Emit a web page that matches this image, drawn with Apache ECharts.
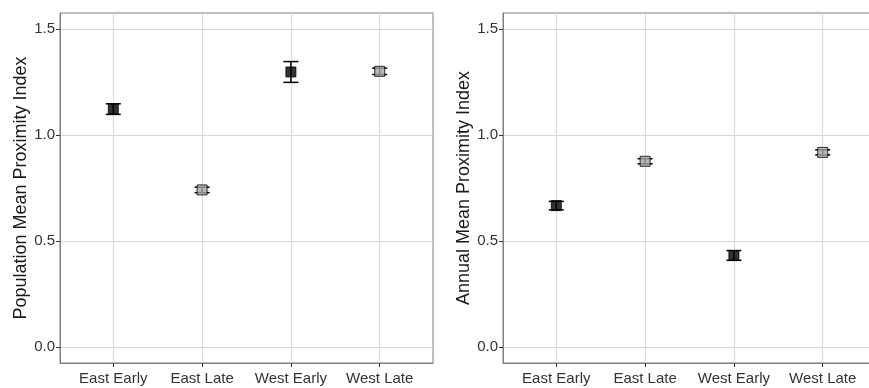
<!DOCTYPE html>
<html>
<head>
<meta charset="utf-8">
<title>Mean Proximity Index</title>
<script src="https://cdn.jsdelivr.net/npm/echarts@6/dist/echarts.min.js"></script>
<style>
  html, body { margin: 0; padding: 0; background: #ffffff; }
  #chart { width: 869px; height: 388px; }
</style>
</head>
<body>
<div id="chart"></div>
<script>
// Groups shown on both panels
const groups = ['East Early', 'East Late', 'West Early', 'West Late'];

// Population mean proximity index and its standard error
const popMean = [1.122, 0.741, 1.297, 1.300];
const popErr  = [0.025, 0.013, 0.049, 0.015];

// Annual mean proximity index and its standard error
const annMean = [0.667, 0.876, 0.432, 0.918];
const annErr  = [0.020, 0.012, 0.023, 0.012];

// Y tick values
const yTicks = [0, 0.5, 1.0, 1.5];

const EARLY_FILL = '#000000';
const LATE_FILL = '#a6a6a6';
const FONT = '"Liberation Sans", Arial, sans-serif';

const chart = echarts.init(document.getElementById('chart'), null, { renderer: 'canvas' });

const xPositions = groups.map((g, i) => i + 1);

function xAxisFor(gridIndex) {
  return {
    type: 'value', gridIndex: gridIndex,
    min: 0.4, max: 4.6,
    axisLine: { show: true, onZero: false, lineStyle: { color: '#7f7f7f', width: 1 } },
    axisTick: { show: true, length: 4, customValues: xPositions, lineStyle: { color: '#333333', width: 1 } },
    axisLabel: {
      customValues: xPositions,
      formatter: v => groups[Math.round(v) - 1] || '',
      color: '#333333', fontFamily: FONT, fontSize: 15, margin: 8
    },
    splitLine: { show: true, lineStyle: { color: '#d9d9d9', width: 1 } }
  };
}

function yAxisFor(gridIndex, title) {
  return {
    type: 'value', gridIndex: gridIndex,
    min: -0.075, max: 1.575,
    name: title, nameLocation: 'middle', nameGap: 30, nameRotate: 90,
    nameTextStyle: { color: '#1a1a1a', fontFamily: FONT, fontSize: 18 },
    axisLine: { show: true, onZero: false, lineStyle: { color: '#7f7f7f', width: 1 } },
    axisTick: { show: true, length: 4, customValues: yTicks, lineStyle: { color: '#333333', width: 1 } },
    axisLabel: {
      customValues: yTicks,
      formatter: v => v.toFixed(1),
      color: '#333333', fontFamily: FONT, fontSize: 15, margin: 5
    },
    splitLine: { show: true, lineStyle: { color: '#d9d9d9', width: 1 } }
  };
}

// Vertical error bar with caps
function errorBarItem(params, api) {
  const x = api.value(0);
  const top = api.coord([x, api.value(2)]);
  const bot = api.coord([x, api.value(1)]);
  const half = 7.5;
  const style = { stroke: '#000000', lineWidth: 1.5, fill: null };
  return {
    type: 'group',
    children: [
      { type: 'line', shape: { x1: top[0], y1: top[1], x2: bot[0], y2: bot[1] }, style: style },
      { type: 'line', shape: { x1: top[0] - half, y1: top[1], x2: top[0] + half, y2: top[1] }, style: style },
      { type: 'line', shape: { x1: bot[0] - half, y1: bot[1], x2: bot[0] + half, y2: bot[1] }, style: style }
    ]
  };
}

function panelSeries(idx, means, errs) {
  return [
    {
      type: 'custom', xAxisIndex: idx, yAxisIndex: idx, z: 2,
      renderItem: errorBarItem,
      data: means.map((m, i) => [xPositions[i], m - errs[i], m + errs[i]])
    },
    {
      type: 'scatter', xAxisIndex: idx, yAxisIndex: idx, z: 3,
      symbol: 'rect', symbolSize: 10,
      data: means.map((m, i) => ({
        value: [xPositions[i], m],
        itemStyle: {
          color: groups[i].indexOf('Early') >= 0 ? EARLY_FILL : LATE_FILL,
          borderColor: '#000000', borderWidth: 1
        }
      }))
    }
  ];
}

chart.setOption({
  animation: false,
  backgroundColor: '#ffffff',
  grid: [
    { left: 60, top: 13, width: 373, height: 350, outerBoundsMode: 'none', containLabel: false,
      show: true, borderColor: '#7f7f7f', borderWidth: 1, backgroundColor: 'transparent' },
    { left: 503, top: 13, width: 373, height: 350, outerBoundsMode: 'none', containLabel: false,
      show: true, borderColor: '#7f7f7f', borderWidth: 1, backgroundColor: 'transparent' }
  ],
  xAxis: [xAxisFor(0), xAxisFor(1)],
  yAxis: [
    yAxisFor(0, 'Population Mean Proximity Index'),
    yAxisFor(1, 'Annual Mean Proximity Index')
  ],
  series: [].concat(
    panelSeries(0, popMean, popErr),
    panelSeries(1, annMean, annErr)
  )
});
</script>
</body>
</html>
